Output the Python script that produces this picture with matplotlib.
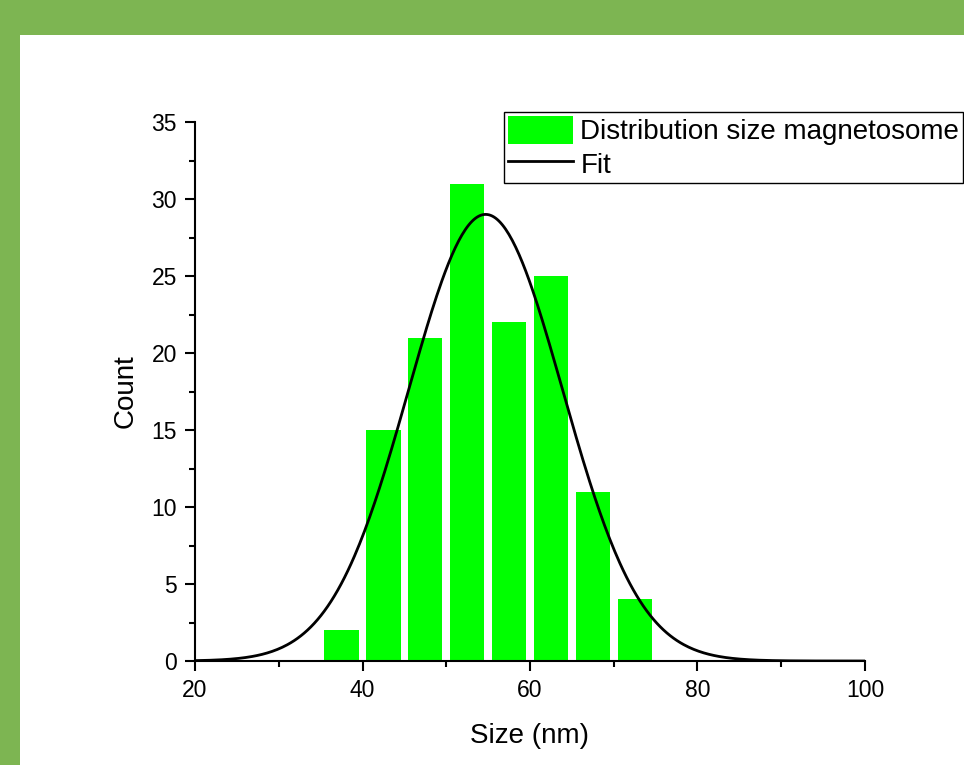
import numpy as np
import matplotlib.pyplot as plt
from matplotlib.patches import Rectangle
from matplotlib.ticker import MultipleLocator

plt.rcParams['font.family'] = ['Liberation Sans', 'DejaVu Sans']

# Histogram data (bin centres in nm, counts)
bin_centers = [37.5, 42.5, 47.5, 52.5, 57.5, 62.5, 67.5, 72.5]
counts = [2, 15, 21, 31, 22, 25, 11, 4]

# Gaussian fit parameters
fit_center = 54.7
fit_height = 29.0
fit_sigma = 9.2

fig = plt.figure(figsize=(9.64, 7.65), dpi=100)
fig.patch.set_facecolor('#7db552')
# white slide panel behind the axes
panel = Rectangle((20/964, 0), 1, 1 - 35/765, transform=fig.transFigure,
                  facecolor='white', edgecolor='none', zorder=-5)
fig.add_artist(panel)

ax = fig.add_axes([195/964, (765-661)/765, 670/964, 539/765])
ax.set_facecolor('none')

bars = ax.bar(bin_centers, counts, width=4.1, color='#00ff00', zorder=2)

xf = np.linspace(20, 100, 400)
yf = fit_height*np.exp(-(xf - fit_center)**2/(2*fit_sigma**2))
line, = ax.plot(xf, yf, color='black', lw=2, zorder=3)

ax.set_xlim(20, 100)
ax.set_ylim(0, 35)
ax.xaxis.set_major_locator(MultipleLocator(20))
ax.xaxis.set_minor_locator(MultipleLocator(10))
ax.yaxis.set_major_locator(MultipleLocator(5))
ax.yaxis.set_minor_locator(MultipleLocator(2.5))

for s in ['top', 'right']:
    ax.spines[s].set_visible(False)
for s in ['left', 'bottom']:
    ax.spines[s].set_linewidth(1.5)
ax.tick_params(which='major', length=7, width=1.5, labelsize=16.5, pad=6, direction='out')
ax.tick_params(which='minor', length=4, width=1.5, direction='out')

ax.set_xlabel('Size (nm)', fontsize=20, labelpad=15)
ax.set_ylabel('Count', fontsize=20, labelpad=9)

leg = ax.legend([bars, line], ['Distribution size magnetosome', 'Fit'],
                loc='upper left', bbox_to_anchor=(0.461, 1.0186), fontsize=20,
                frameon=True, fancybox=False, framealpha=1, edgecolor='black',
                handlelength=2.35, handleheight=1.15, handletextpad=0.25,
                labelspacing=0.15, borderpad=0.15, borderaxespad=0)
leg.get_frame().set_linewidth(1)

fig.savefig('out.png', dpi=100)
